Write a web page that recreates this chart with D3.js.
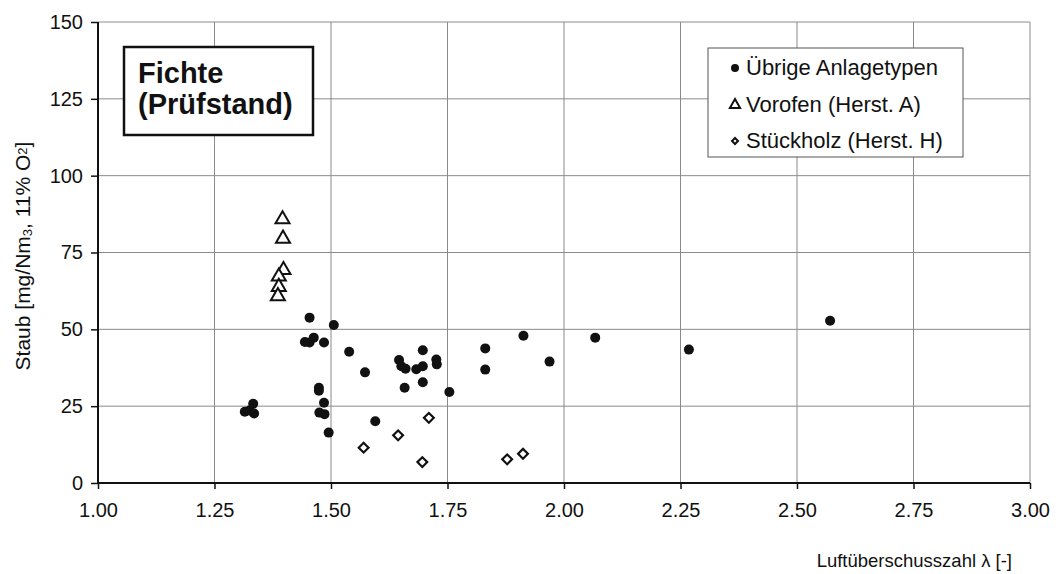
<!DOCTYPE html>
<html><head><meta charset="utf-8">
<script src="https://cdn.jsdelivr.net/npm/d3@7"></script>
<style>
body{margin:0;background:#fff;}
text{font-family:"Liberation Sans",Arial,Helvetica,sans-serif;fill:#111;}
</style></head>
<body>
<svg id="chart" width="1056" height="574"></svg>
<script>
// ---- data ----
const uebrigeX = [1.315,1.325,1.333,1.335,1.444,1.454,1.463,1.454,1.485,1.506,1.474,1.474,1.485,1.475,1.486,1.495,1.539,1.573,1.595,1.646,1.651,1.660,1.658,1.683,1.697,1.697,1.697,1.726,1.727,1.754,1.831,1.831,1.913,1.969,2.067,2.268,2.571];
const uebrigeY = [23.2,23.6,25.8,22.6,45.9,45.7,47.3,53.8,45.7,51.4,31.0,30.0,26.1,22.9,22.4,16.4,42.7,36.0,20.1,40.0,38.0,37.2,31.0,37.0,38.0,43.2,32.8,40.2,38.6,29.6,43.8,36.9,47.9,39.5,47.3,43.4,52.8];
const vorofenX = [1.396,1.397,1.398,1.388,1.388,1.386];
const vorofenY = [85.8,79.5,69.3,67.2,63.8,60.8];
const stueckX = [1.570,1.644,1.710,1.696,1.878,1.912];
const stueckY = [11.5,15.5,21.2,6.8,7.7,9.5];
const xTicks = [1.00,1.25,1.50,1.75,2.00,2.25,2.50,2.75,3.00];
const yTicks = [0,25,50,75,100,125,150];
const legendLabels = ["Übrige Anlagetypen","Vorofen (Herst. A)","Stückholz (Herst. H)"];
const titleLines = ["Fichte","(Prüfstand)"];
const xLabel = "Luftüberschusszahl λ [-]";

// ---- layout ----
const svg = d3.select("#chart");
const L = 98, R = 1030, T = 22, B = 483;
const x = d3.scaleLinear().domain([1,3]).range([L,R]);
const y = d3.scaleLinear().domain([0,150]).range([B,T]);

// grid
const g = svg.append("g");
g.selectAll(".vg").data(xTicks.slice(1)).enter().append("line")
  .attr("x1",d=>x(d)).attr("x2",d=>x(d)).attr("y1",T).attr("y2",B)
  .attr("stroke","#8a8a8a").attr("stroke-width",1);
g.selectAll(".hg").data(yTicks.slice(1)).enter().append("line")
  .attr("x1",L).attr("x2",R).attr("y1",d=>y(d)).attr("y2",d=>y(d))
  .attr("stroke","#8a8a8a").attr("stroke-width",1);

// axes
const xAxis = d3.axisBottom(x).tickValues(xTicks).tickFormat(d3.format(".2f")).tickSize(6).tickPadding(14);
const yAxis = d3.axisLeft(y).tickValues(yTicks).tickSize(7).tickPadding(8);
const gx = svg.append("g").attr("transform",`translate(0,${B})`).call(xAxis);
const gy = svg.append("g").attr("transform",`translate(${L},0)`).call(yAxis);
[gx,gy].forEach(a=>{
  a.select(".domain").attr("stroke","#111").attr("stroke-width",2);
  a.selectAll(".tick line").attr("stroke","#111").attr("stroke-width",1.5);
  a.selectAll(".tick text").style("font-size","20px").attr("fill","#111");
});
gx.select(".domain").attr("d",`M${L},0H${R}`);
gy.select(".domain").attr("d",`M0,${B}V${T}`);

// axis titles
svg.append("text").attr("x",1012).attr("y",567).attr("text-anchor","end")
  .style("font-size","18.5px").text(xLabel);
const yl = svg.append("text").attr("transform","translate(30,256) rotate(-90)")
  .attr("text-anchor","middle").style("font-size","21px");
yl.append("tspan").text("Staub [mg/Nm");
yl.append("tspan").style("font-size","13px").attr("dy","2").text("3");
yl.append("tspan").attr("dy","-2").text(", 11% O");
yl.append("tspan").style("font-size","13px").attr("dy","-3").text("2");
yl.append("tspan").attr("dy","3").text("]");

// marks
const pts1 = uebrigeX.map((v,i)=>({x:v,y:uebrigeY[i]}));
const pts2 = vorofenX.map((v,i)=>({x:v,y:vorofenY[i]}));
const pts3 = stueckX.map((v,i)=>({x:v,y:stueckY[i]}));
svg.append("g").selectAll("circle").data(pts1).enter().append("circle")
  .attr("cx",d=>x(d.x)).attr("cy",d=>y(d.y)).attr("r",5).attr("fill","#111");
const tri = d3.symbol().type(d3.symbolTriangle).size(85);
svg.append("g").selectAll("path").data(pts2).enter().append("path")
  .attr("d",tri).attr("transform",d=>`translate(${x(d.x)},${y(d.y)})`)
  .attr("fill","#fff").attr("stroke","#111").attr("stroke-width",2);
const dia = d3.symbol().type(d3.symbolSquare).size(48);
svg.append("g").selectAll("path").data(pts3).enter().append("path")
  .attr("d",dia).attr("transform",d=>`translate(${x(d.x)},${y(d.y)}) rotate(45)`)
  .attr("fill","#fff").attr("stroke","#111").attr("stroke-width",2.2);

// title box
svg.append("rect").attr("x",124).attr("y",47).attr("width",189).attr("height",88)
  .attr("fill","#fff").attr("stroke","#111").attr("stroke-width",2.5);
svg.selectAll(".tt").data(titleLines).enter().append("text")
  .attr("x",138).attr("y",(d,i)=>83+i*31)
  .style("font-size","29px").style("font-weight","bold").text(d=>d);

// legend
svg.append("rect").attr("x",708).attr("y",48).attr("width",255).attr("height",109)
  .attr("fill","#fff").attr("stroke","#555").attr("stroke-width",1);
const ly = [67,104,140];
svg.selectAll(".lt").data(legendLabels).enter().append("text")
  .attr("x",746).attr("y",(d,i)=>ly[i]+8).style("font-size","22px").text(d=>d);
svg.append("circle").attr("cx",735).attr("cy",ly[0]+1).attr("r",4).attr("fill","#111");
svg.append("path").attr("d",d3.symbol().type(d3.symbolTriangle).size(45))
  .attr("transform",`translate(735,${ly[1]+1})`).attr("fill","#fff").attr("stroke","#111").attr("stroke-width",2);
svg.append("path").attr("d",d3.symbol().type(d3.symbolSquare).size(18))
  .attr("transform",`translate(735,${ly[2]+1}) rotate(45)`).attr("fill","#fff").attr("stroke","#111").attr("stroke-width",2);
</script>
</body></html>
